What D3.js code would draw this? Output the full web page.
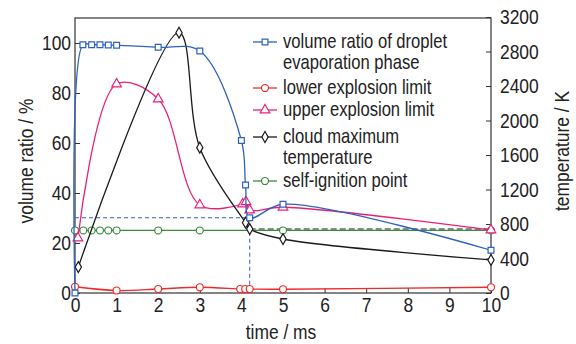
<!DOCTYPE html>
<html><head>
<meta charset="UTF-8">
<script src="https://d3js.org/d3.v7.min.js"></script>
<style>
  body { margin: 0; background: #fff; }
  text { font-family: "Liberation Sans", Arial, sans-serif; fill: #222; }
</style>
</head>
<body>
<svg id="vis" width="576" height="344"></svg>
<script>
// volume ratio of droplet evaporation phase (%)
var blueT = [0, 0.19, 0.4, 0.6, 0.8, 1.0, 2.0, 3.0, 4.0, 4.1, 4.2, 5.0, 10];
var blueV = [0, 99.3, 99.3, 99.3, 99.2, 99.1, 98.3, 96.8, 61, 43.2, 30.1, 35.5, 17.1];
// lower explosion limit (%)
var redT = [0, 1, 2, 3, 3.97, 4.09, 4.2, 5, 10];
var redV = [2.5, 1.0, 1.6, 2.3, 1.6, 1.6, 1.6, 1.5, 2.3];
// upper explosion limit (%)
var pinkT = [0.07, 1, 2, 3, 4.03, 4.11, 4.2, 5, 10];
var pinkV = [22, 83.6, 77.6, 35.2, 35.6, 36.5, 33.2, 34.3, 25.2];
// cloud maximum temperature (K)
var blackT = [0.08, 2.5, 3.0, 4.1, 4.2, 5, 10];
var blackK = [301, 3018, 1685, 815, 742, 626, 383];
// self-ignition point (K)
var greenT = [0, 0.2, 0.4, 0.6, 0.8, 1, 2, 3, 5, 10];
var greenK = [725, 725, 725, 725, 725, 725, 725, 725, 725, 725];

var xTicks = [0, 1, 2, 3, 4, 5, 6, 7, 8, 9, 10];
var leftTicks = [0, 20, 40, 60, 80, 100];
var rightTicks = [0, 400, 800, 1200, 1600, 2000, 2400, 2800, 3200];

var legendNames = [["volume ratio of droplet", "evaporation phase"], ["lower explosion limit"],
  ["upper explosion limit"], ["cloud maximum", "temperature"], ["self-ignition point"]];

var cBlue = "#2e62c0", cRed = "#ee2a2a", cPink = "#ec1f78", cBlack = "#1a1a1a", cGreen = "#3b8a3e";
var NX = 0.83; // horizontal squeeze, the original uses a narrow face

var svg = d3.select("#vis");
var x = d3.scaleLinear().domain([0, 10]).range([75, 491]);
var yL = d3.scaleLinear().domain([0, 110]).range([293, 18]);
var yR = d3.scaleLinear().domain([0, 3200]).range([293, 17]);

function squeeze(sel) {
  sel.each(function() {
    var t = d3.select(this);
    t.attr("x", (+t.attr("x") || 0) / NX).attr("transform", "scale(" + NX + ",1)");
  });
}

// axes (ticks point inward)
var gx = svg.append("g").attr("transform", "translate(0,293)");
gx.call(d3.axisBottom(x).tickValues(d3.range(0, 10.01, 0.5)).tickSize(-3).tickFormat(""));
gx.call(d3.axisBottom(x).tickValues(xTicks).tickSize(-5).tickPadding(4).tickFormat(d3.format("d")));

var gl = svg.append("g").attr("transform", "translate(75,0)");
gl.call(d3.axisLeft(yL).tickValues(d3.range(0, 111, 5)).tickSize(-3).tickFormat(""));
gl.call(d3.axisLeft(yL).tickValues(leftTicks).tickSize(-5).tickPadding(4).tickFormat(d3.format("d")));

var gr = svg.append("g").attr("transform", "translate(491,0)");
gr.call(d3.axisRight(yR).tickValues(d3.range(0, 3201, 100)).tickSize(-3).tickFormat(""));
gr.call(d3.axisRight(yR).tickValues(rightTicks).tickSize(-5).tickPadding(9).tickFormat(d3.format("d")));

svg.selectAll(".domain").remove();
svg.selectAll(".tick line").attr("stroke", "#333").attr("stroke-width", 1);
svg.selectAll(".tick text").attr("font-size", 21).attr("font-family", null).style("fill", "#222").call(squeeze);

svg.append("rect").attr("x", 75).attr("y", 18).attr("width", 416).attr("height", 275)
  .attr("fill", "none").attr("stroke", "#333").attr("stroke-width", 1.2);

// axis titles
svg.append("text").attr("transform", "translate(33,161) rotate(-90) scale(" + NX + ",1)").attr("text-anchor", "middle")
  .attr("font-size", 21).text("volume ratio / %");
svg.append("text").attr("transform", "translate(569,151) rotate(-90) scale(" + NX + ",1)").attr("text-anchor", "middle")
  .attr("font-size", 21).text("temperature / K");
svg.append("text").attr("transform", "translate(281,339) scale(" + NX + ",1)").attr("text-anchor", "middle")
  .attr("font-size", 21).text("time / ms");

// reference dashed lines at t = 4.2
var gd = svg.append("g");
gd.append("line").attr("x1", x(0)).attr("x2", x(blueT[10])).attr("y1", yL(blueV[10])).attr("y2", yL(blueV[10]))
  .attr("stroke", cBlue).attr("stroke-width", 1).attr("stroke-dasharray", "4,3");
gd.append("line").attr("x1", x(blueT[10])).attr("x2", x(blueT[10])).attr("y1", yL(blueV[10])).attr("y2", yL(0))
  .attr("stroke", cBlue).attr("stroke-width", 1).attr("stroke-dasharray", "4,3");
gd.append("line").attr("x1", x(blackT[4])).attr("x2", x(10)).attr("y1", yR(blackK[4])).attr("y2", yR(blackK[4]))
  .attr("stroke", cBlack).attr("stroke-width", 1.2).attr("stroke-dasharray", "6,3");

var sym = {
  square: d3.symbol().type(d3.symbolSquare).size(34),
  circle: d3.symbol().type(d3.symbolCircle).size(38),
  triangle: d3.symbol().type(d3.symbolTriangle).size(40),
  diamond: d3.symbol().type(d3.symbolDiamond).size(34)
};

function series(ts, vs, yScale, color, shape) {
  var pts = ts.map(function(t, i) { return [x(t), yScale(vs[i])]; });
  var line = d3.line().curve(d3.curveCatmullRom.alpha(0.5));
  svg.append("path").attr("d", line(pts)).attr("fill", "none")
    .attr("stroke", color).attr("stroke-width", 1.3);
  svg.append("g").selectAll("path").data(pts).join("path")
    .attr("d", sym[shape]).attr("transform", function(p) { return "translate(" + p[0] + "," + p[1] + ")"; })
    .attr("fill", "#fff").attr("stroke", color).attr("stroke-width", 1.2);
}

series(greenT, greenK, yR, cGreen, "circle");
series(redT, redV, yL, cRed, "circle");
series(pinkT, pinkV, yL, cPink, "triangle");
series(blackT, blackK, yR, cBlack, "diamond");
series(blueT, blueV, yL, cBlue, "square");

// legend
var legRows = [42, 88, 110, 137, 181];
var legColors = [cBlue, cRed, cPink, cBlack, cGreen];
var legShapes = ["square", "circle", "triangle", "diamond", "circle"];
var gLeg = svg.append("g");
legRows.forEach(function(ry, i) {
  gLeg.append("rect").attr("x", 252).attr("y", ry - 4).attr("width", 27).attr("height", 8)
    .attr("fill", "#fff").attr("stroke", "none");
  gLeg.append("line").attr("x1", 253).attr("x2", 277).attr("y1", ry).attr("y2", ry)
    .attr("stroke", legColors[i]).attr("stroke-width", 1.3);
  gLeg.append("path").attr("d", sym[legShapes[i]]).attr("transform", "translate(265," + ry + ")")
    .attr("fill", "#fff").attr("stroke", legColors[i]).attr("stroke-width", 1.2);
  legendNames[i].forEach(function(s, j) {
    gLeg.append("text").attr("transform", "translate(283," + (ry + 6 + j * 21) + ") scale(" + NX + ",1)")
      .attr("font-size", 20).text(s);
  });
});
</script>
</body></html>
